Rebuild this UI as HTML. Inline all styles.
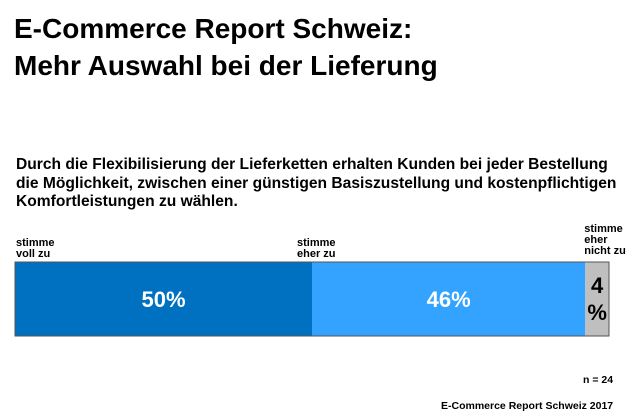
<!DOCTYPE html>
<html><head><meta charset="utf-8"><style>
body{margin:0;width:630px;height:412px;background:#fff;font-family:"Liberation Sans",sans-serif;position:relative;overflow:hidden}
.t{position:absolute;left:14px;top:10px;font-size:28px;font-weight:bold;line-height:37px;color:#000}
.s{position:absolute;left:16px;top:156px;font-size:15.6px;font-weight:bold;line-height:18.5px;color:#000;white-space:nowrap}
.l{position:absolute;font-size:11px;font-weight:bold;line-height:11px;color:#000}
.n{position:absolute;font-size:10.5px;font-weight:bold;color:#000}
</style></head><body>
<div class="t">E-Commerce Report Schweiz:<br>Mehr Auswahl bei der Lieferung</div>
<div class="s">Durch die Flexibilisierung der Lieferketten erhalten Kunden bei jeder Bestellung<br>die Möglichkeit, zwischen einer günstigen Basiszustellung und kostenpflichtigen<br>Komfortleistungen zu wählen.</div>
<svg id="c" width="630" height="412" style="position:absolute;left:0;top:0"></svg>
<div class="n" style="left:583px;top:374px">n = 24</div>
<div class="n" style="left:441px;top:400px">E-Commerce Report Schweiz 2017</div>
<script>
const categories=["stimme voll zu","stimme eher zu","stimme eher nicht zu"];
const values=[50,46,4];
const valueLabels=["50%","46%","4 %"];
const colors=["#0070c0","#33a3ff","#bfbfbf"];
const svg=document.getElementById('c');
const x0=15,x1=609,y0=262,y1=336;
const total=values.reduce((a,b)=>a+b,0);
const xs=v=>x0+(x1-x0)*v/total;
let acc=0;
const NS="http://www.w3.org/2000/svg";
values.forEach((v,i)=>{
 const a=xs(acc),b=xs(acc+v);acc+=v;
 const r=document.createElementNS(NS,'rect');
 r.setAttribute('x',a);r.setAttribute('y',y0);r.setAttribute('width',b-a);r.setAttribute('height',y1-y0);r.setAttribute('fill',colors[i]);
 
 
 svg.appendChild(r);
 const cx=(a+b)/2;
 if(b-a>40){
  const t=document.createElementNS(NS,'text');
  t.setAttribute('x',cx);t.setAttribute('y',(y0+y1)/2+8);t.setAttribute('text-anchor','middle');
  t.setAttribute('font-size','22');t.setAttribute('font-weight','bold');t.setAttribute('fill','#fff');
  t.setAttribute('font-family','Liberation Sans, sans-serif');t.textContent=valueLabels[i];
  
  
  svg.appendChild(t);
 } else {
  valueLabels[i].split(' ').forEach((p,j)=>{
   const t=document.createElementNS(NS,'text');
   t.setAttribute('x',cx);t.setAttribute('y',y0+31+j*27);t.setAttribute('text-anchor','middle');
   t.setAttribute('font-size','22');t.setAttribute('font-weight','bold');t.setAttribute('fill','#000');
   t.setAttribute('font-family','Liberation Sans, sans-serif');t.textContent=p;
   
   
   svg.appendChild(t);
  });
 }
 const d=document.createElement('div');d.className='l';
 const words=categories[i].split(' ');
 if(i===0){d.innerHTML=words[0]+'<br>'+words.slice(1).join(' ');d.style.left=(a+1)+'px';d.style.top='238px';}
 else if(i===1){d.innerHTML=words[0]+'<br>'+words.slice(1).join(' ');d.style.left=(a-15)+'px';d.style.top='238px';}
 else {d.innerHTML=words[0]+'<br>'+words[1]+'<br>'+words.slice(2).join(' ');d.style.left=(a-1)+'px';d.style.top='224px';}
 
 
 document.body.appendChild(d);
});
const o=document.createElementNS(NS,'rect');
o.setAttribute('x',x0);o.setAttribute('y',y0);o.setAttribute('width',x1-x0);o.setAttribute('height',y1-y0);
o.setAttribute('fill','none');o.setAttribute('stroke','#555');o.setAttribute('stroke-width','1');


svg.appendChild(o);
</script>
</body></html>
